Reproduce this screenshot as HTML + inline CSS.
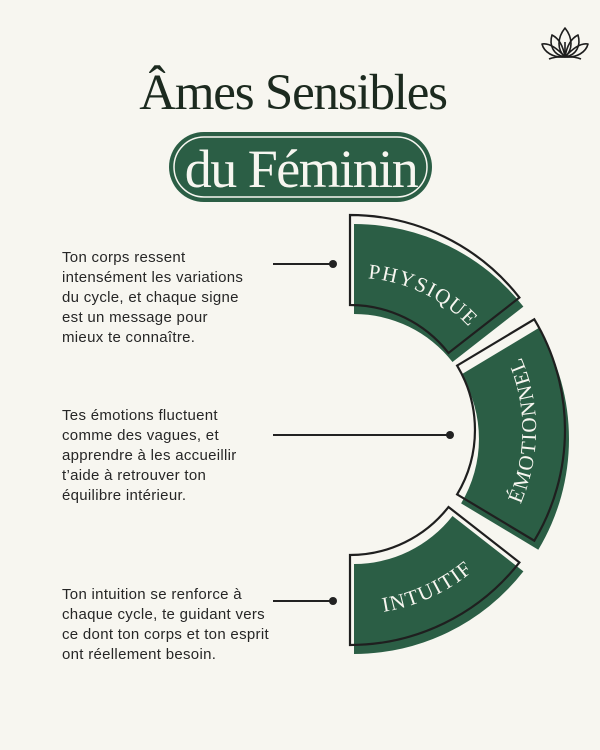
<!DOCTYPE html>
<html><head><meta charset="utf-8"><style>
html,body{margin:0;padding:0;background:#f7f6f0}
svg{display:block}
</style></head><body>
<svg width="600" height="750" viewBox="0 0 600 750" xmlns="http://www.w3.org/2000/svg">
<rect width="600" height="750" fill="#f7f6f0"/>
<!-- lotus -->
<g fill="none" stroke="#1d1d1d" stroke-width="1.6" stroke-linejoin="round">
<path d="M565,57 C557,50 557,38 565,28 C573,38 573,50 565,57 Z"/>
<path d="M565,57 C553,55 549,45 552,35 C558,38 563,45 565,57"/>
<path d="M565,57 C577,55 581,45 578,35 C572,38 567,45 565,57"/>
<path d="M565,57 C553,58 544,52 542,44 C548,43 556,47 565,57"/>
<path d="M565,57 C577,58 586,52 588,44 C582,43 574,47 565,57"/>
<path d="M565,57 L565,42"/>
<path d="M549,59 C556,56 574,56 581,59"/>
</g>
<!-- title -->
<text x="293" y="109" text-anchor="middle" font-family="Liberation Serif, serif" font-size="51" fill="#1c2a1f" letter-spacing="-1.2">Âmes Sensibles</text>
<rect x="169" y="132" width="263" height="70" rx="35" fill="#2b5e45"/>
<rect x="174" y="137" width="253" height="60" rx="30" fill="none" stroke="#f7f6f0" stroke-width="1.5"/>
<text x="301" y="187" text-anchor="middle" font-family="Liberation Serif, serif" font-size="54" fill="#f7f6f0" letter-spacing="-1.5">du Féminin</text>
<!-- green fills -->
<g fill="#2b5e45" transform="translate(4,9)">
<path d="M350,215 A215,215 0 0 1 519.4,297.6 L448.5,353 A125,125 0 0 0 350,305 Z"/>
<path d="M534.3,319.3 A215,215 0 0 1 534.3,540.7 L457.1,494.4 A125,125 0 0 0 457.1,365.6 Z"/>
<path d="M519.4,562.4 A215,215 0 0 1 350,645 L350,555 A125,125 0 0 0 448.5,507 Z"/>
</g>
<g fill="none" stroke="#1f1f1f" stroke-width="2.2" stroke-linejoin="miter">
<path d="M350,215 A215,215 0 0 1 519.4,297.6 L448.5,353 A125,125 0 0 0 350,305 Z"/>
<path d="M534.3,319.3 A215,215 0 0 1 534.3,540.7 L457.1,494.4 A125,125 0 0 0 457.1,365.6 Z"/>
<path d="M519.4,562.4 A215,215 0 0 1 350,645 L350,555 A125,125 0 0 0 448.5,507 Z"/>
</g>
<defs>
<path id="p1" d="M352,278 A155,155 0 0 1 480,340"/>
<path id="p2" d="M508,528 A185,185 0 0 0 508,332"/>
<path id="p3" d="M352,614 A184,184 0 0 0 496,548"/>
</defs>
<g font-family="Liberation Serif, serif" font-size="21" fill="#f7f6f0" letter-spacing="1.5">
<text><textPath href="#p1" startOffset="50%" text-anchor="middle">PHYSIQUE</textPath></text>
<text><textPath href="#p2" startOffset="50%" text-anchor="middle">ÉMOTIONNEL</textPath></text>
<text><textPath href="#p3" startOffset="50%" text-anchor="middle">INTUITIF</textPath></text>
</g>
<!-- connectors -->
<g stroke="#222" stroke-width="2">
<line x1="273" y1="264" x2="333" y2="264"/>
<line x1="273" y1="435" x2="450" y2="435"/>
<line x1="273" y1="601" x2="333" y2="601"/>
</g>
<g fill="#222">
<circle cx="333" cy="264" r="4"/>
<circle cx="450" cy="435" r="4"/>
<circle cx="333" cy="601" r="4"/>
</g>
<!-- texts -->
<g font-family="Liberation Sans, sans-serif" font-size="15" fill="#262626" letter-spacing="0.3">
<text x="62" y="262">Ton corps ressent</text>
<text x="62" y="282">intensément les variations</text>
<text x="62" y="302">du cycle, et chaque signe</text>
<text x="62" y="322">est un message pour</text>
<text x="62" y="342">mieux te connaître.</text>
<text x="62" y="420">Tes émotions fluctuent</text>
<text x="62" y="440">comme des vagues, et</text>
<text x="62" y="460">apprendre à les accueillir</text>
<text x="62" y="480">t’aide à retrouver ton</text>
<text x="62" y="500">équilibre intérieur.</text>
<text x="62" y="599">Ton intuition se renforce à</text>
<text x="62" y="619">chaque cycle, te guidant vers</text>
<text x="62" y="639">ce dont ton corps et ton esprit</text>
<text x="62" y="659">ont réellement besoin.</text>
</g>
</svg>
</body></html>
